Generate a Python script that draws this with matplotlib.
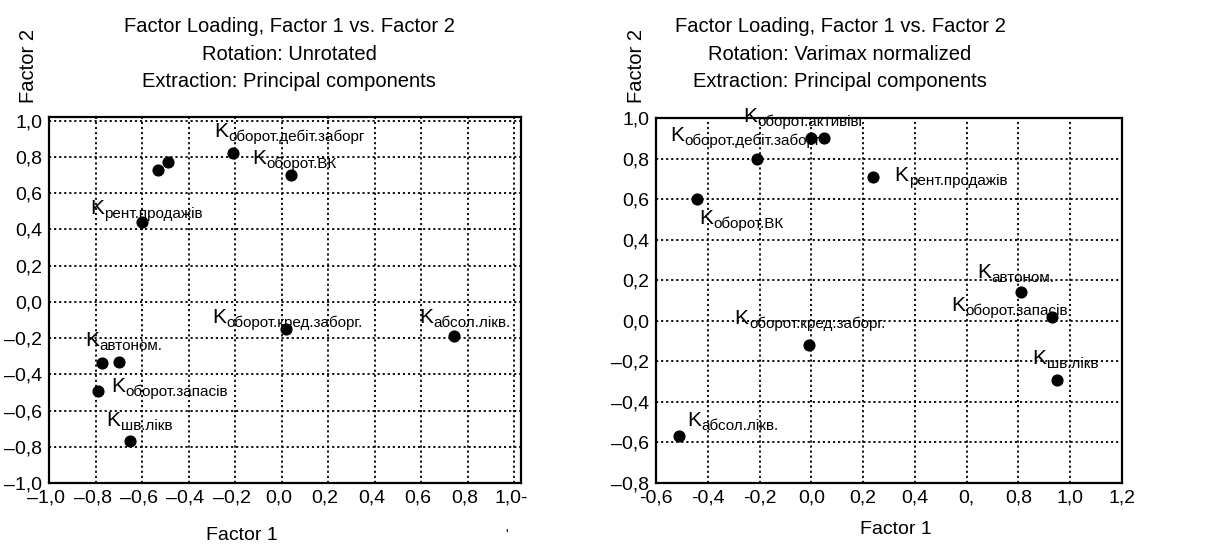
import matplotlib
matplotlib.use("Agg")
import numpy as np
import matplotlib.pyplot as plt
from matplotlib.transforms import ScaledTranslation

plt.rcParams['font.family'] = ['Liberation Sans', 'DejaVu Sans']

# left panel: unrotated loadings
unrot_f1 = [-0.53, -0.49, -0.21, 0.04, -0.60, 0.02, 0.74, -0.77, -0.70, -0.79, -0.65]
unrot_f2 = [0.73, 0.77, 0.82, 0.70, 0.44, -0.15, -0.19, -0.34, -0.33, -0.49, -0.77]
unrot_labels = ["оборот.дебіт.заборг", "оборот.ВК", "рент.продажів",
                "оборот.кред.заборг.", "абсол.лікв.", "автоном.",
                "оборот.запасів", "шв.лікв"]
unrot_lab_x = [-0.29, -0.125, -0.824, -0.30, 0.592, -0.846, -0.734, -0.753]
unrot_lab_y = [0.911, 0.758, 0.487, -0.117, -0.117, -0.243, -0.50, -0.687]
unrot_xticks = ["–1,0", "–0,8", "–0,6", "–0,4", "–0,2", "0,0", "0,2", "0,4", "0,6", "0,8", "1,0-"]
unrot_yticks = ["–1,0", "–0,8", "–0,6", "–0,4", "–0,2", "0,0", "0,2", "0,4", "0,6", "0,8", "1,0"]

# right panel: varimax normalized loadings
vari_f1 = [-0.44, -0.21, 0.00, 0.05, 0.24, 0.81, 0.93, -0.01, 0.95, -0.51]
vari_f2 = [0.60, 0.80, 0.90, 0.90, 0.71, 0.14, 0.02, -0.12, -0.29, -0.57]
vari_labels = ["оборот.активівг", "оборот.дебіт.заборг", "рент.продажів",
               "оборот.ВК", "автоном.", "оборот.запасів",
               "оборот.кред.заборг.", "шв.лікв", "абсол.лікв."]
vari_lab_x = [-0.264, -0.546, 0.321, -0.433, 0.642, 0.539, -0.296, 0.854, -0.479]
vari_lab_y = [0.978, 0.887, 0.689, 0.476, 0.213, 0.05, -0.015, -0.211, -0.52]
vari_xticks = ["-0,6", "-0,4", "-0,2", "0,0", "0,2", "0,4", "0,", "0,8", "1,0", "1,2"]
vari_yticks = ["–0,8", "–0,6", "–0,4", "–0,2", "0,0", "0,2", "0,4", "0,6", "0,8", "1,0"]

W, H = 1217, 549
fig = plt.figure(figsize=(W / 100, H / 100), dpi=100)


def px_axes(l, t, r, b):
    return fig.add_axes([l / W, 1 - b / H, (r - l) / W, (b - t) / H])


def put_label(ax, x, y, sub):
    k = ax.text(x, y, "K", fontsize=15, ha='left', va='baseline', zorder=2)
    ax.annotate(sub, xy=(1, 0), xycoords=k, xytext=(0.2, 0), textcoords='offset points',
                fontsize=11, ha='left', va='baseline', zorder=2)


def style(ax, xt, xl, yt, yl):
    ax.set_xticks(xt)
    ax.set_xticklabels(xl)
    ax.set_yticks(yt)
    ax.set_yticklabels(yl)
    ax.tick_params(length=0, labelsize=14, pad=5)
    ax.grid(True, color='black', linestyle=(0, (1.2, 1.6)), linewidth=1.3)
    ax.set_axisbelow(True)
    for s in ax.spines.values():
        s.set_linewidth(1.6)


ax1 = px_axes(49, 117, 521, 483)
ax1.scatter(unrot_f1, unrot_f2, s=60, color='black', zorder=3)
ax1.set_xlim(-1.0, 1.03)
ax1.set_ylim(-1.0, 1.02)
style(ax1, np.arange(-1.0, 1.01, 0.2), unrot_xticks, np.arange(-1.0, 1.01, 0.2), unrot_yticks)
shift = ScaledTranslation(-3 / 100, 0, fig.dpi_scale_trans)
for lbl in ax1.get_xticklabels():
    lbl.set_transform(lbl.get_transform() + shift)
for x, y, t in zip(unrot_lab_x, unrot_lab_y, unrot_labels):
    put_label(ax1, x, y, t)

ax2 = px_axes(656, 118, 1122, 483)
ax2.scatter(vari_f1, vari_f2, s=60, color='black', zorder=3)
ax2.set_xlim(-0.6, 1.2)
ax2.set_ylim(-0.8, 1.0)
style(ax2, np.arange(-0.6, 1.21, 0.2), vari_xticks, np.arange(-0.8, 1.01, 0.2), vari_yticks)
for x, y, t in zip(vari_lab_x, vari_lab_y, vari_labels):
    put_label(ax2, x, y, t)

fig.text(289 / W, 1 - 54 / H,
         "Factor Loading, Factor 1 vs. Factor 2\nRotation: Unrotated\nExtraction: Principal components",
         ha='center', va='center', fontsize=14.5, linespacing=1.55)
fig.text(840 / W, 1 - 54 / H,
         "Factor Loading, Factor 1 vs. Factor 2\nRotation: Varimax normalized\nExtraction: Principal components",
         ha='center', va='center', fontsize=14.5, linespacing=1.55)

fig.text(29 / W, 1 - 66 / H, "Factor 2", rotation=90, ha='center', va='center', fontsize=14.5)
fig.text(637 / W, 1 - 66 / H, "Factor 2", rotation=90, ha='center', va='center', fontsize=14.5)
fig.text(242 / W, 1 - 535 / H, "Factor 1", ha='center', va='center', fontsize=14)
fig.text(896 / W, 1 - 530 / H, "Factor 1", ha='center', va='center', fontsize=14)
fig.text(507 / W, 1 - 535 / H, "'", ha='center', va='center', fontsize=10)

fig.savefig("out.png", dpi=100)
